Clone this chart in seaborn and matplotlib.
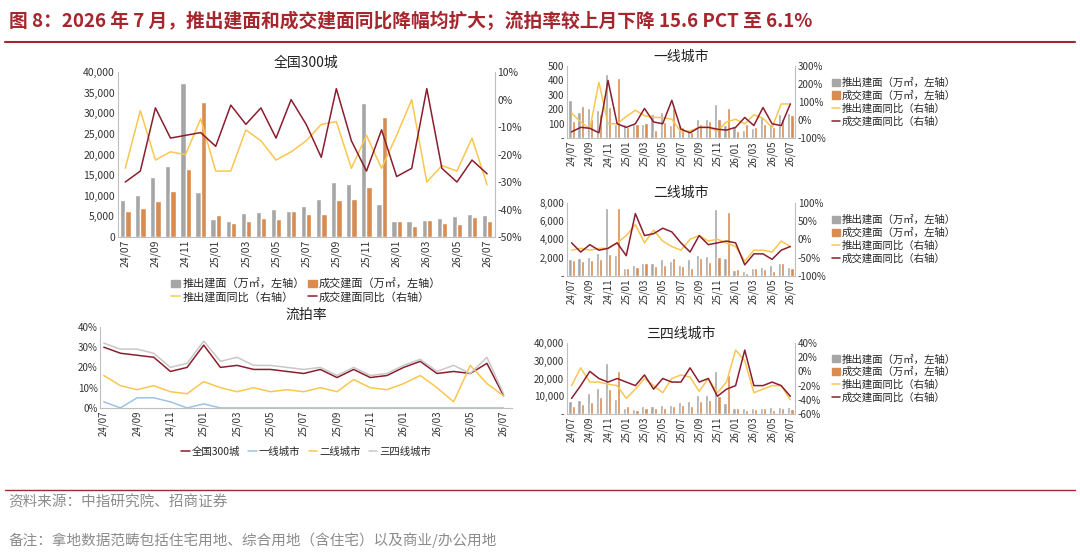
import numpy as np
import pandas as pd
import matplotlib
matplotlib.use("Agg")
import matplotlib.pyplot as plt
import seaborn as sns
from matplotlib.ticker import FuncFormatter, PercentFormatter
from matplotlib.patches import Patch
from matplotlib.lines import Line2D

sns.set_theme(style="white")
plt.rcParams['font.family'] = ['Noto Sans CJK SC', 'DejaVu Sans']
plt.rcParams['axes.unicode_minus'] = False

# ── Data ───────────────────────────────────────────────────────────────────
months = ['24/07', '24/08', '24/09', '24/10', '24/11', '24/12',
          '25/01', '25/02', '25/03', '25/04', '25/05', '25/06',
          '25/07', '25/08', '25/09', '25/10', '25/11', '25/12',
          '26/01', '26/02', '26/03', '26/04', '26/05', '26/06', '26/07']

nat_push = [9000, 10200, 14500, 17200, 37300, 10800, 4400, 3900, 5800, 6100, 6900, 6400,
            7600, 9200, 13300, 12900, 32500, 8100, 3900, 3900, 4100, 4600, 5100, 5600, 5300]
nat_deal = [6200, 7100, 8700, 11200, 16500, 32800, 5400, 3500, 3900, 4500, 4300, 6200,
            5500, 5600, 9000, 9300, 12200, 29000, 3900, 2700, 4100, 3300, 3100, 4800, 4000]
nat_push_yoy = [-25, -4, -22, -19, -20, -7, -26, -26, -11, -15, -22, -19,
                -15, -9, -8, -25, -13, -25, -13, 0, -30, -24, -26, -14, -31]
nat_deal_yoy = [-30, -26, -3, -14, -13, -12, -17, -2, -9, -3, -14, 0,
                -9, -21, 4, -15, -26, -11, -28, -25, 4, -25, -30, -22, -27]

t1_push = [265, 180, 210, 195, 445, 100, 95, 95, 95, 165, 180, 90,
           90, 50, 130, 135, 240, 90, 85, 60, 70, 150, 100, 165, 175]
t1_deal = [120, 225, 130, 165, 215, 415, 80, 100, 105, 55, 110, 210,
           75, 40, 95, 120, 135, 210, 50, 100, 75, 100, 80, 130, 160]
t1_push_yoy = [40, -10, -50, 210, -20, -20, 20, 55, 25, 15, 15, 5,
               -65, -60, -40, -40, -60, -10, 5, -20, 30, 10, -40, 90, 90]
t1_deal_yoy = [-65, -40, -45, -70, 220, -20, -40, -20, 65, -10, -20, 110,
               -50, -70, -40, -40, -50, -55, -40, 15, -30, 70, -20, -30, 90]

t2_push = [1800, 1900, 2100, 2500, 7400, 2300, 850, 1200, 1400, 1450, 1800, 1600,
           1150, 1850, 2300, 2150, 7300, 1950, 650, 550, 900, 950, 1200, 1450, 950]
t2_deal = [1700, 1600, 1700, 1800, 2400, 7450, 850, 950, 1450, 1100, 1200, 2000,
           1100, 900, 2000, 1500, 2100, 6950, 700, 300, 900, 700, 500, 1350, 900]
t2_push_yoy = [-30, -25, -30, -25, -25, -10, 10, 40, -10, 25, -5, -20,
               -30, 0, 10, -5, 0, -10, -20, -60, -30, -30, -35, -5, -20]
t2_deal_yoy = [-10, -35, -15, -30, -25, -10, -45, 70, 10, 15, 30, 20,
               -10, -35, 10, -15, -10, -5, -10, -70, -40, -40, -55, -30, -20]

t3_push = [7200, 8000, 12000, 14500, 29000, 8500, 3500, 2800, 4500, 4600, 5000, 5000,
           6500, 7500, 10800, 10500, 24500, 6000, 3500, 3200, 3300, 3400, 3800, 4000, 4200]
t3_deal = [4800, 5500, 7000, 9500, 14000, 24500, 4500, 2500, 3500, 3500, 3500, 4500,
           5000, 4500, 7500, 8000, 10000, 22000, 3500, 2500, 3000, 3500, 2500, 3500, 3000]
t3_push_yoy = [-20, 5, -15, -15, -18, -20, -38, -25, -10, -20, -30, -10,
               -5, -8, -28, -10, -30, -15, 30, 15, -30, -25, -20, -20, -40]
t3_deal_yoy = [-38, -20, 0, -10, -15, -10, -15, -20, -5, -25, -10, -15,
               -15, 5, -15, -10, -35, -25, -20, 30, -20, -20, -15, -20, -35]

fr_nat = [30, 27, 26, 25, 18, 20, 31, 20, 21, 19, 19, 18,
          17, 19, 15, 19, 15, 16, 20, 23, 17, 18, 17, 22, 6]
fr_t1 = [3, 0, 5, 5, 3, 0, 2, 0, 0, 0, 0, 0,
         0, 0, 0, 0, 0, 0, 0, 0, 0, 0, 0, 0, 0]
fr_t2 = [16, 11, 9, 11, 8, 7, 13, 10, 8, 10, 8, 9,
         8, 10, 8, 14, 10, 9, 12, 16, 10, 3, 21, 12, 6]
fr_t34 = [32, 29, 29, 27, 20, 22, 33, 23, 25, 21, 21, 20,
          19, 20, 16, 20, 16, 17, 21, 24, 18, 21, 17, 25, 7]

GREY = '#A6A6A6'
ORANGE = '#D88C52'
YELLOW = '#F9C74F'
DRED = '#8B1E2E'
TXT = '#333333'

x = np.arange(len(months))
tick_idx = x[::2]
fig = plt.figure(figsize=(10.8, 5.55), dpi=100)

labels = ['推出建面（万㎡，左轴）', '成交建面（万㎡，左轴）', '推出建面同比（右轴）', '成交建面同比（右轴）']


def combo(rect, title, push, deal, pyoy, dyoy, ylim, ystep, rlim, rstep,
          thousands, fs=7.5, legend_below=False):
    ax = fig.add_axes(rect)
    df = pd.DataFrame({'m': months * 2, 'v': push + deal, 's': [labels[0]] * 25 + [labels[1]] * 25})
    sns.barplot(data=df, x='m', y='v', hue='s', palette=[GREY, ORANGE],
                ax=ax, width=0.7, legend=False, saturation=1)
    ax.set_xlabel('')
    ax.set_ylabel('')
    ax.set_ylim(*ylim)
    ax.set_yticks(np.arange(ylim[0], ylim[1] + 1, ystep))
    if thousands:
        ax.yaxis.set_major_formatter(FuncFormatter(lambda v, p: f'{v:,.0f}' if v else ('0' if thousands == 2 else '-')))
    else:
        ax.yaxis.set_major_formatter(FuncFormatter(lambda v, p: f'{v:.0f}' if v else '-'))
    ax.set_xticks(tick_idx)
    ax.set_xticklabels([months[i] for i in tick_idx], rotation=90)
    ax.tick_params(labelsize=fs, colors=TXT, length=0, pad=2)
    for s in ['top', 'right']:
        ax.spines[s].set_visible(False)
    for s in ['left', 'bottom']:
        ax.spines[s].set_color('#BFBFBF')
        ax.spines[s].set_linewidth(0.8)
    ax.set_xlim(-0.5, 24.5)
    ax2 = ax.twinx()
    sns.lineplot(x=x, y=pyoy, ax=ax2, color=YELLOW, lw=1.1)
    sns.lineplot(x=x, y=dyoy, ax=ax2, color=DRED, lw=1.1)
    ax2.set_ylim(*rlim)
    ax2.set_yticks(np.arange(rlim[0], rlim[1] + 1, rstep))
    ax2.yaxis.set_major_formatter(PercentFormatter(decimals=0))
    ax2.tick_params(labelsize=fs, colors=TXT, length=0, pad=2)
    for s in ['top', 'left', 'bottom']:
        ax2.spines[s].set_visible(False)
    ax2.spines['right'].set_color('#BFBFBF')
    ax2.spines['right'].set_linewidth(0.8)
    ax.set_title(title, fontsize=10, color='#222222', pad=4)
    handles = [Patch(color=GREY), Patch(color=ORANGE),
               Line2D([], [], color=YELLOW, lw=1.1), Line2D([], [], color=DRED, lw=1.1)]
    if legend_below:
        order = [0, 2, 1, 3]  # row-wise fill with ncol=2
        ax.legend([handles[i] for i in order], [labels[i] for i in order], ncol=2,
                  loc='upper center', bbox_to_anchor=(0.5, -0.19),
                  frameon=False, fontsize=8, handlelength=0.8, handletextpad=0.2,
                  columnspacing=0.3, labelspacing=0.2)
    else:
        ax.legend(handles, labels, ncol=1, loc='center left', bbox_to_anchor=(1.12, 0.5),
                  frameon=False, fontsize=7.5, handlelength=0.8, handletextpad=0.2,
                  labelspacing=0.25)
    return ax


combo([0.109, 0.573, 0.349, 0.297], '全国300城', nat_push, nat_deal, nat_push_yoy, nat_deal_yoy,
      (0, 40000), 5000, (-50, 10), 10, 2, fs=7.5, legend_below=True)
combo([0.525, 0.751, 0.211, 0.130], '一线城市', t1_push, t1_deal, t1_push_yoy, t1_deal_yoy,
      (0, 500), 100, (-100, 300), 100, 0, fs=7)
combo([0.525, 0.503, 0.211, 0.132], '二线城市', t2_push, t2_deal, t2_push_yoy, t2_deal_yoy,
      (0, 8000), 2000, (-100, 100), 50, 1, fs=7)
combo([0.525, 0.254, 0.211, 0.128], '三四线城市', t3_push, t3_deal, t3_push_yoy, t3_deal_yoy,
      (0, 40000), 10000, (-60, 40), 20, 1, fs=7)

# ── 流拍率 ─────────────────────────────────────────────────────────────────
ax = fig.add_axes([0.093, 0.265, 0.381, 0.146])
fr = pd.DataFrame({'x': np.tile(x, 4),
                   'v': fr_nat + fr_t1 + fr_t2 + fr_t34,
                   's': ['全国300城'] * 25 + ['一线城市'] * 25 + ['二线城市'] * 25 + ['三四线城市'] * 25})
sns.lineplot(data=fr, x='x', y='v', hue='s',
             palette=[DRED, '#9DC3E6', YELLOW, '#C8C8C8'], ax=ax, lw=1.1)
ax.set_xlabel('')
ax.set_ylabel('')
ax.set_ylim(0, 40)
ax.set_yticks([0, 10, 20, 30, 40])
ax.yaxis.set_major_formatter(PercentFormatter(decimals=0))
ax.set_xlim(-0.2, 24.5)
ax.set_xticks(tick_idx)
ax.set_xticklabels([months[i] for i in tick_idx], rotation=90)
ax.tick_params(labelsize=7, colors=TXT, length=0, pad=2)
for s in ['top', 'right']:
    ax.spines[s].set_visible(False)
for s in ['left', 'bottom']:
    ax.spines[s].set_color('#BFBFBF')
    ax.spines[s].set_linewidth(0.8)
ax.set_title('流拍率', fontsize=10, color='#222222', pad=6)
ax.legend(ncol=4, loc='upper center', bbox_to_anchor=(0.5, -0.36), frameon=False,
          fontsize=7.5, handlelength=0.8, handletextpad=0.2, columnspacing=0.8)

# ── Header / footer ────────────────────────────────────────────────────────
fig.text(0.008, 0.962, '图 8：2026 年 7 月，推出建面和成交建面同比降幅均扩大；流拍率较上月下降 15.6 PCT 至 6.1%',
         fontsize=13.5, fontweight='bold', color='#A6262E', va='center')
fig.add_artist(plt.Line2D([0.005, 0.995], [0.925, 0.925], color='#A6262E', lw=1.5))
fig.add_artist(plt.Line2D([0.005, 0.995], [0.118, 0.118], color='#A6262E', lw=1.0))
fig.text(0.008, 0.095, '资料来源：中指研究院、招商证券', fontsize=10.5, color='#8C8C8C', va='center')
fig.text(0.008, 0.027, '备注：拿地数据范畴包括住宅用地、综合用地（含住宅）以及商业/办公用地',
         fontsize=10.5, color='#8C8C8C', va='center')

fig.savefig('out.png', dpi=100)
